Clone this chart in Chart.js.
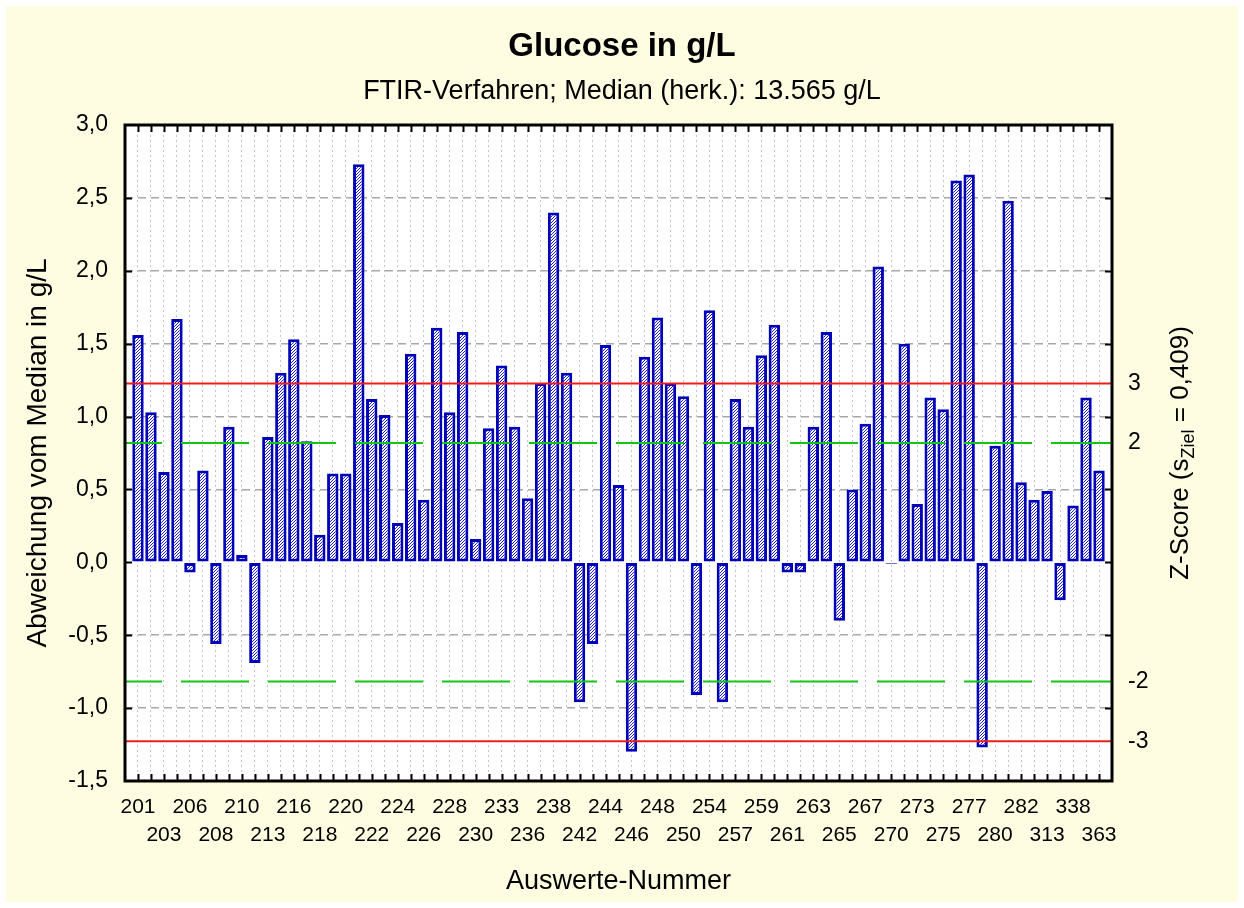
<!DOCTYPE html>
<html lang="de">
<head>
<meta charset="utf-8">
<title>Glucose in g/L</title>
<script src="https://cdn.jsdelivr.net/npm/chart.js@4.4.1/dist/chart.umd.min.js"></script>
<style>
  html, body { margin: 0; padding: 0; background: #fff; }
  #wrap { width: 1244px; height: 908px; }
</style>
</head>
<body>
<div id="wrap"><canvas id="chart" width="1244" height="908"></canvas></div>
<script>
// Auswerte-Nummern (only every second bar carries a label)
const tickLabels = ['201', '203', '206', '208', '210', '213', '216', '218', '220', '222',
  '224', '226', '228', '230', '233', '236', '238', '242', '244', '246', '248', '250',
  '254', '257', '259', '261', '263', '265', '267', '270', '273', '275', '277', '280',
  '282', '313', '338', '363'];

// Abweichung vom Median in g/L, one value per lab
const deviation = [
  1.56, 1.03, 0.62, 1.67, -0.07, 0.63, -0.56, 0.93, 0.05, -0.69,
  0.86, 1.30, 1.53, 0.83, 0.19, 0.61, 0.61, 2.73, 1.12, 1.01,
  0.27, 1.43, 0.43, 1.61, 1.03, 1.58, 0.16, 0.92, 1.35, 0.93,
  0.44, 1.23, 2.40, 1.30, -0.96, -0.56, 1.49, 0.53, -1.30, 1.41,
  1.68, 1.23, 1.14, -0.91, 1.73, -0.96, 1.12, 0.93, 1.42, 1.63,
  -0.07, -0.07, 0.93, 1.58, -0.40, 0.50, 0.95, 2.03, -0.01, 1.50,
  0.40, 1.13, 1.05, 2.62, 2.66, -1.27, 0.80, 2.48, 0.55, 0.43,
  0.49, -0.26, 0.39, 1.13, 0.63
];

// Z-Score limits (s_Ziel in g/L)
const sZiel = 0.409;
const zLevels = [3, 2, -2, -3];

const FONT = "'Liberation Sans', Arial, Helvetica, sans-serif";

// one empty slot on each side, so the frame sits a full step outside the bars
const nBars = deviation.length;
const categories = [''];
deviation.forEach((v, i) => categories.push(i % 2 === 0 ? tickLabels[i / 2] : ''));
categories.push('');
const barData = [null, ...deviation, null];

const canvas = document.getElementById('chart');
const ctx = canvas.getContext('2d');

// diagonal hatch used to fill the bars
function makeHatch() {
  const c = document.createElement('canvas');
  c.width = 3;
  c.height = 3;
  const g = c.getContext('2d');
  g.fillStyle = '#ffffff';
  g.fillRect(0, 0, 3, 3);
  g.strokeStyle = '#2020d8';
  g.lineWidth = 1;
  g.beginPath();
  g.moveTo(0, 3); g.lineTo(3, 0);
  g.moveTo(-1, 1); g.lineTo(1, -1);
  g.moveTo(2, 4); g.lineTo(4, 2);
  g.stroke();
  return ctx.createPattern(c, 'repeat');
}

const framePlugin = {
  id: 'frame',
  beforeDraw(chart) {
    const { ctx, chartArea: a, width, height } = chart;
    ctx.save();
    ctx.fillStyle = '#ffffff';
    ctx.fillRect(0, 0, width, height);
    ctx.fillStyle = '#fffde1';
    ctx.fillRect(6, 6, width - 12, height - 12);
    ctx.fillStyle = '#ffffff';
    ctx.fillRect(a.left, a.top, a.right - a.left, a.bottom - a.top);
    ctx.restore();
  },
  afterDatasetsDraw(chart) {
    // red (|z| = 3) and green dashed (|z| = 2) limit lines
    const { ctx, chartArea: a, scales } = chart;
    ctx.save();
    zLevels.forEach(z => {
      const y = scales.y.getPixelForValue(z * sZiel);
      ctx.beginPath();
      if (Math.abs(z) === 3) {
        ctx.strokeStyle = '#f01c1c';
        ctx.setLineDash([]);
      } else {
        ctx.strokeStyle = '#10c810';
        ctx.setLineDash([68, 19]);
        ctx.lineDashOffset = 31;
      }
      ctx.lineWidth = 2;
      ctx.moveTo(a.left, y);
      ctx.lineTo(a.right, y);
      ctx.stroke();
    });
    ctx.restore();
  },
  afterDraw(chart) {
    const { ctx, chartArea: a, scales } = chart;
    ctx.save();
    ctx.strokeStyle = '#000';
    ctx.lineWidth = 2;
    ctx.setLineDash([]);
    ctx.beginPath();
    // inward ticks on top and bottom, one per bar
    for (let i = 1; i <= nBars; i++) {
      const x = Math.round(scales.x.getPixelForValue(i)) + 0.5;
      ctx.moveTo(x, a.top); ctx.lineTo(x, a.top + 7);
      ctx.moveTo(x, a.bottom); ctx.lineTo(x, a.bottom - 7);
    }
    // inward ticks left and right every 0.5
    scales.y.ticks.forEach(t => {
      if (t.value <= scales.y.min || t.value >= scales.y.max) return;
      const y = Math.round(scales.y.getPixelForValue(t.value)) + 0.5;
      ctx.moveTo(a.left, y); ctx.lineTo(a.left + 7, y);
      ctx.moveTo(a.right, y); ctx.lineTo(a.right - 7, y);
    });
    ctx.stroke();
    ctx.lineWidth = 3;
    ctx.strokeRect(a.left, a.top, a.right - a.left, a.bottom - a.top);

    // right axis title with subscript
    const parts = [
      { t: 'Z-Score (s', size: 26, dy: 0 },
      { t: 'Ziel', size: 18, dy: 8 },
      { t: ' = 0,409)', size: 26, dy: 0 }
    ];
    ctx.fillStyle = '#000';
    ctx.textBaseline = 'middle';
    ctx.textAlign = 'left';
    let total = 0;
    parts.forEach(p => {
      ctx.font = p.size + 'px ' + FONT;
      p.w = ctx.measureText(p.t).width;
      total += p.w;
    });
    ctx.translate(1181, (a.top + a.bottom) / 2);
    ctx.rotate(-Math.PI / 2);
    let x = -total / 2;
    parts.forEach(p => {
      ctx.font = p.size + 'px ' + FONT;
      ctx.fillText(p.t, x, p.dy);
      x += p.w;
    });
    ctx.restore();
  }
};

new Chart(canvas, {
  type: 'bar',
  data: {
    labels: categories,
    datasets: [{
      label: 'Abweichung vom Median',
      data: barData,
      backgroundColor: makeHatch(),
      borderColor: '#0000b8',
      borderWidth: 3,
      borderSkipped: false,
      barPercentage: 0.88,
      categoryPercentage: 1
    }]
  },
  options: {
    responsive: false,
    animation: false,
    devicePixelRatio: 1,
    layout: { padding: 0 },
    plugins: {
      legend: { display: false },
      tooltip: { enabled: false },
      title: {
        display: true,
        text: 'Glucose in g/L',
        color: '#000',
        font: { family: FONT, size: 33, weight: 'bold', lineHeight: 1.2 },
        padding: { top: 27, bottom: 0 }
      },
      subtitle: {
        display: true,
        text: 'FTIR-Verfahren; Median (herk.): 13.565 g/L',
        color: '#000',
        font: { family: FONT, size: 27, lineHeight: 1.2 },
        padding: { top: 9, bottom: 17 }
      }
    },
    scales: {
      x: {
        type: 'category',
        offset: false,
        grid: { offset: false, drawTicks: false, color: '#c4c4c4', lineWidth: 1 },
        border: { display: false, dash: [2, 3] },
        ticks: {
          autoSkip: false,
          maxRotation: 0,
          minRotation: 0,
          padding: 12,
          color: '#000',
          font: { family: FONT, size: 21, lineHeight: 28 / 21 },
          callback: function(value, index) {
            const bar = index - 1;
            if (bar < 0 || bar >= nBars || bar % 2) return '';
            const k = bar / 2;
            return k % 2 === 0 ? tickLabels[k] : ['', tickLabels[k]];
          }
        },
        title: {
          display: true,
          text: 'Auswerte-Nummer',
          color: '#000',
          font: { family: FONT, size: 27, lineHeight: 1.2 },
          padding: { top: 0, bottom: 10 }
        },
        afterFit: s => { s.height = 127; }
      },
      y: {
        min: -1.5,
        max: 3,
        grid: {
          drawTicks: false,
          lineWidth: 1.5,
          color: c => (c.tick && Math.abs(c.tick.value) < 1e-9) ? 'rgba(0,0,0,0)' : '#a8a8a8'
        },
        border: { display: false, dash: [8, 5] },
        ticks: {
          stepSize: 0.5,
          padding: 17,
          color: '#000',
          font: { family: FONT, size: 23 },
          callback: v => v.toFixed(1).replace('.', ',')
        },
        title: {
          display: true,
          text: 'Abweichung vom Median in g/L',
          color: '#000',
          font: { family: FONT, size: 28, lineHeight: 1.2 },
          padding: { top: 21, bottom: 0 }
        },
        afterFit: s => { s.width = 125; }
      },
      y2: {
        position: 'right',
        min: -1.5,
        max: 3,
        grid: { display: false, drawTicks: false },
        border: { display: false },
        afterBuildTicks: s => { s.ticks = zLevels.map(z => ({ value: z * sZiel })); },
        ticks: {
          padding: 16,
          color: '#000',
          font: { family: FONT, size: 23 },
          callback: v => String(Math.round(v / sZiel))
        },
        afterFit: s => { s.width = 132; }
      }
    }
  },
  plugins: [framePlugin]
});
</script>
</body>
</html>
